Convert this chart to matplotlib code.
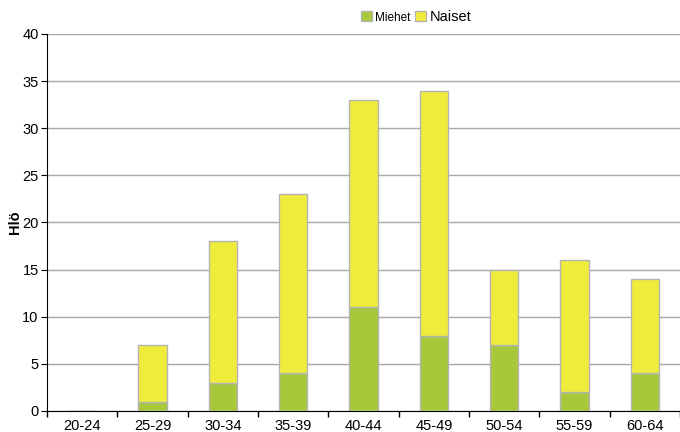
import matplotlib
matplotlib.use("Agg")
import matplotlib.pyplot as plt
from matplotlib.patches import Patch
import numpy as np

plt.rcParams['font.family'] = ['Liberation Sans', 'DejaVu Sans']

categories = ["20-24", "25-29", "30-34", "35-39", "40-44", "45-49", "50-54", "55-59", "60-64"]
miehet = [0, 1, 3, 4, 11, 8, 7, 2, 4]
naiset = [0, 6, 15, 19, 22, 26, 8, 14, 10]

green = "#a8c83c"
yellow = "#f0ec3c"
edge = "#b4b4b4"

fig = plt.figure(figsize=(6.8, 4.32), dpi=100)
ax = fig.add_axes([47 / 680, 21 / 432, 633 / 680, 377 / 432])

x = np.arange(len(categories))
ax.bar(x, miehet, width=0.4, color=green, edgecolor=edge, linewidth=1, zorder=3)
ax.bar(x, naiset, width=0.4, bottom=miehet, color=yellow, edgecolor=edge, linewidth=1, zorder=3)

ax.set_xlim(-0.5, len(categories) - 0.5)
ax.set_ylim(0, 40)
ax.set_yticks(range(0, 41, 5))
ax.yaxis.grid(True, color="#a8a8a8", linewidth=1)
ax.set_axisbelow(True)

ax.set_xticks(x)
ax.set_xticklabels(categories, fontsize=10.5)
ax.set_xticks(np.arange(-0.5, len(categories), 1), minor=True)
ax.tick_params(axis="x", which="major", length=0, pad=6)
ax.tick_params(axis="x", which="minor", length=4, width=1)
ax.tick_params(axis="y", length=4, labelsize=10.5, pad=2)

for s in ["top", "right"]:
    ax.spines[s].set_visible(False)
ax.spines["left"].set_color("black")
ax.spines["bottom"].set_color("black")

ax.set_ylabel("Hlö", fontsize=10.5, fontweight="bold")
ax.yaxis.set_label_coords(-0.040, 0.5)

handles = [Patch(facecolor=green, edgecolor=edge), Patch(facecolor=yellow, edgecolor=edge)]
leg = fig.legend(handles, ["Miehet", "Naiset"], loc="center", bbox_to_anchor=(416 / 680, 1 - 17 / 432),
                 ncol=2, frameon=False, fontsize=10.5, handlelength=0.75, handleheight=0.75,
                 handletextpad=0.25, columnspacing=0.3)
leg.get_texts()[0].set_fontsize(8.5)

fig.savefig("out.png", dpi=100)
